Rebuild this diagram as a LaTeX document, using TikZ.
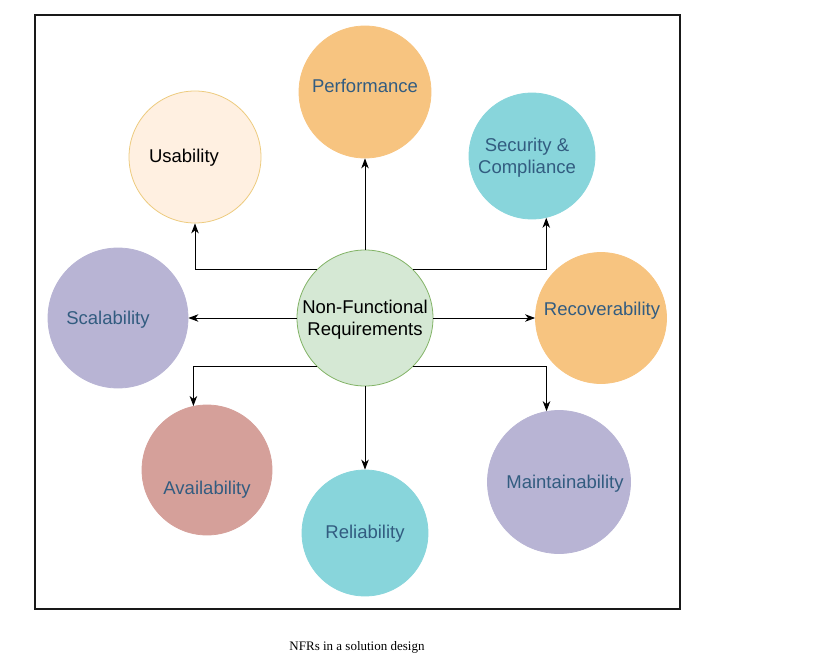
\documentclass[tikz,border=0pt]{standalone}
\usepackage{fontspec}
\setmainfont{Liberation Sans}
\newfontfamily\capfont{Liberation Serif}
\usetikzlibrary{arrows.meta}
\definecolor{orangeF}{HTML}{F7C480}
\definecolor{tealF}{HTML}{88D5DB}
\definecolor{purpF}{HTML}{B8B4D4}
\definecolor{redF}{HTML}{D5A09A}
\definecolor{greenF}{HTML}{D5E8D4}
\definecolor{greenD}{HTML}{82B366}
\definecolor{usaF}{HTML}{FFF0E1}
\definecolor{usaD}{HTML}{EDCB7E}
\definecolor{txtB}{HTML}{325C80}
\tikzset{
  bubble/.style={circle, inner sep=0pt, line width=0.8pt},
  lbl/.style={font=\fontsize{18.5}{22}\selectfont, text=txtB, align=center, inner sep=0pt},
  arr/.style={line width=1pt, -{Stealth[length=10pt,width=7.5pt,inset=3pt]}},
}
\begin{document}
\begin{tikzpicture}[x=1pt,y=-1pt]
\useasboundingbox (0,0) rectangle (819,658);
\draw[line width=2pt, draw=black!90] (35,15) rectangle (680,609);
% circles
\node[bubble, fill=orangeF, draw=orangeF, minimum size=132pt] (perf) at (365,92) {};
\node[bubble, fill=usaF, draw=usaD, minimum size=132pt] (usa) at (195,157) {};
\node[bubble, fill=tealF, draw=tealF, minimum size=126pt] (sec) at (532,156) {};
\node[bubble, fill=purpF, draw=purpF, minimum size=140pt] (sca) at (118,318) {};
\node[bubble, fill=greenF, draw=greenD, minimum size=136pt] (nfr) at (365,318) {};
\node[bubble, fill=orangeF, draw=orangeF, minimum size=131pt] (rec) at (601,318) {};
\node[bubble, fill=redF, draw=redF, minimum size=130pt] (ava) at (207,470) {};
\node[bubble, fill=tealF, draw=tealF, minimum size=126pt] (rel) at (365,533) {};
\node[bubble, fill=purpF, draw=purpF, minimum size=143pt] (mai) at (559,482) {};
% labels
\node[lbl] (tperf) at (365,86) {Performance};
\node[lbl, text=black] (tusa) at (184,158) {Usability};
\node[lbl] (tsec) at (527,158) {Security \&\\Compliance};
\node[lbl] (tsca) at (108,320) {Scalability};
\node[lbl, text=black] (tnfr) at (365,320) {Non-Functional\\Requirements};
\node[lbl] (trec) at (602,311) {Recoverability};
\node[lbl] (tava) at (207,490) {Availability};
\node[lbl] (trel) at (365,534) {Reliability};
\node[lbl] (tmai) at (565,484) {Maintainability};
% connectors
\draw[arr] (nfr.north) -- (perf.south);
\draw[arr] (nfr.135) -| (usa.south);
\draw[arr] (nfr.45) -| (sec.-77);
\draw[arr] (nfr.west) -- (sca.east);
\draw[arr] (nfr.east) -- (rec.west);
\draw[arr] (nfr.225) -| (ava.102);
\draw[arr] (nfr.-45) -| (mai.100);
\draw[arr] (nfr.south) -- (rel.north);
% caption
\node[font=\capfont\fontsize{13}{15}\selectfont, inner sep=0pt] (cap) at (357,647) {NFRs in a solution design};
\end{tikzpicture}
\end{document}
